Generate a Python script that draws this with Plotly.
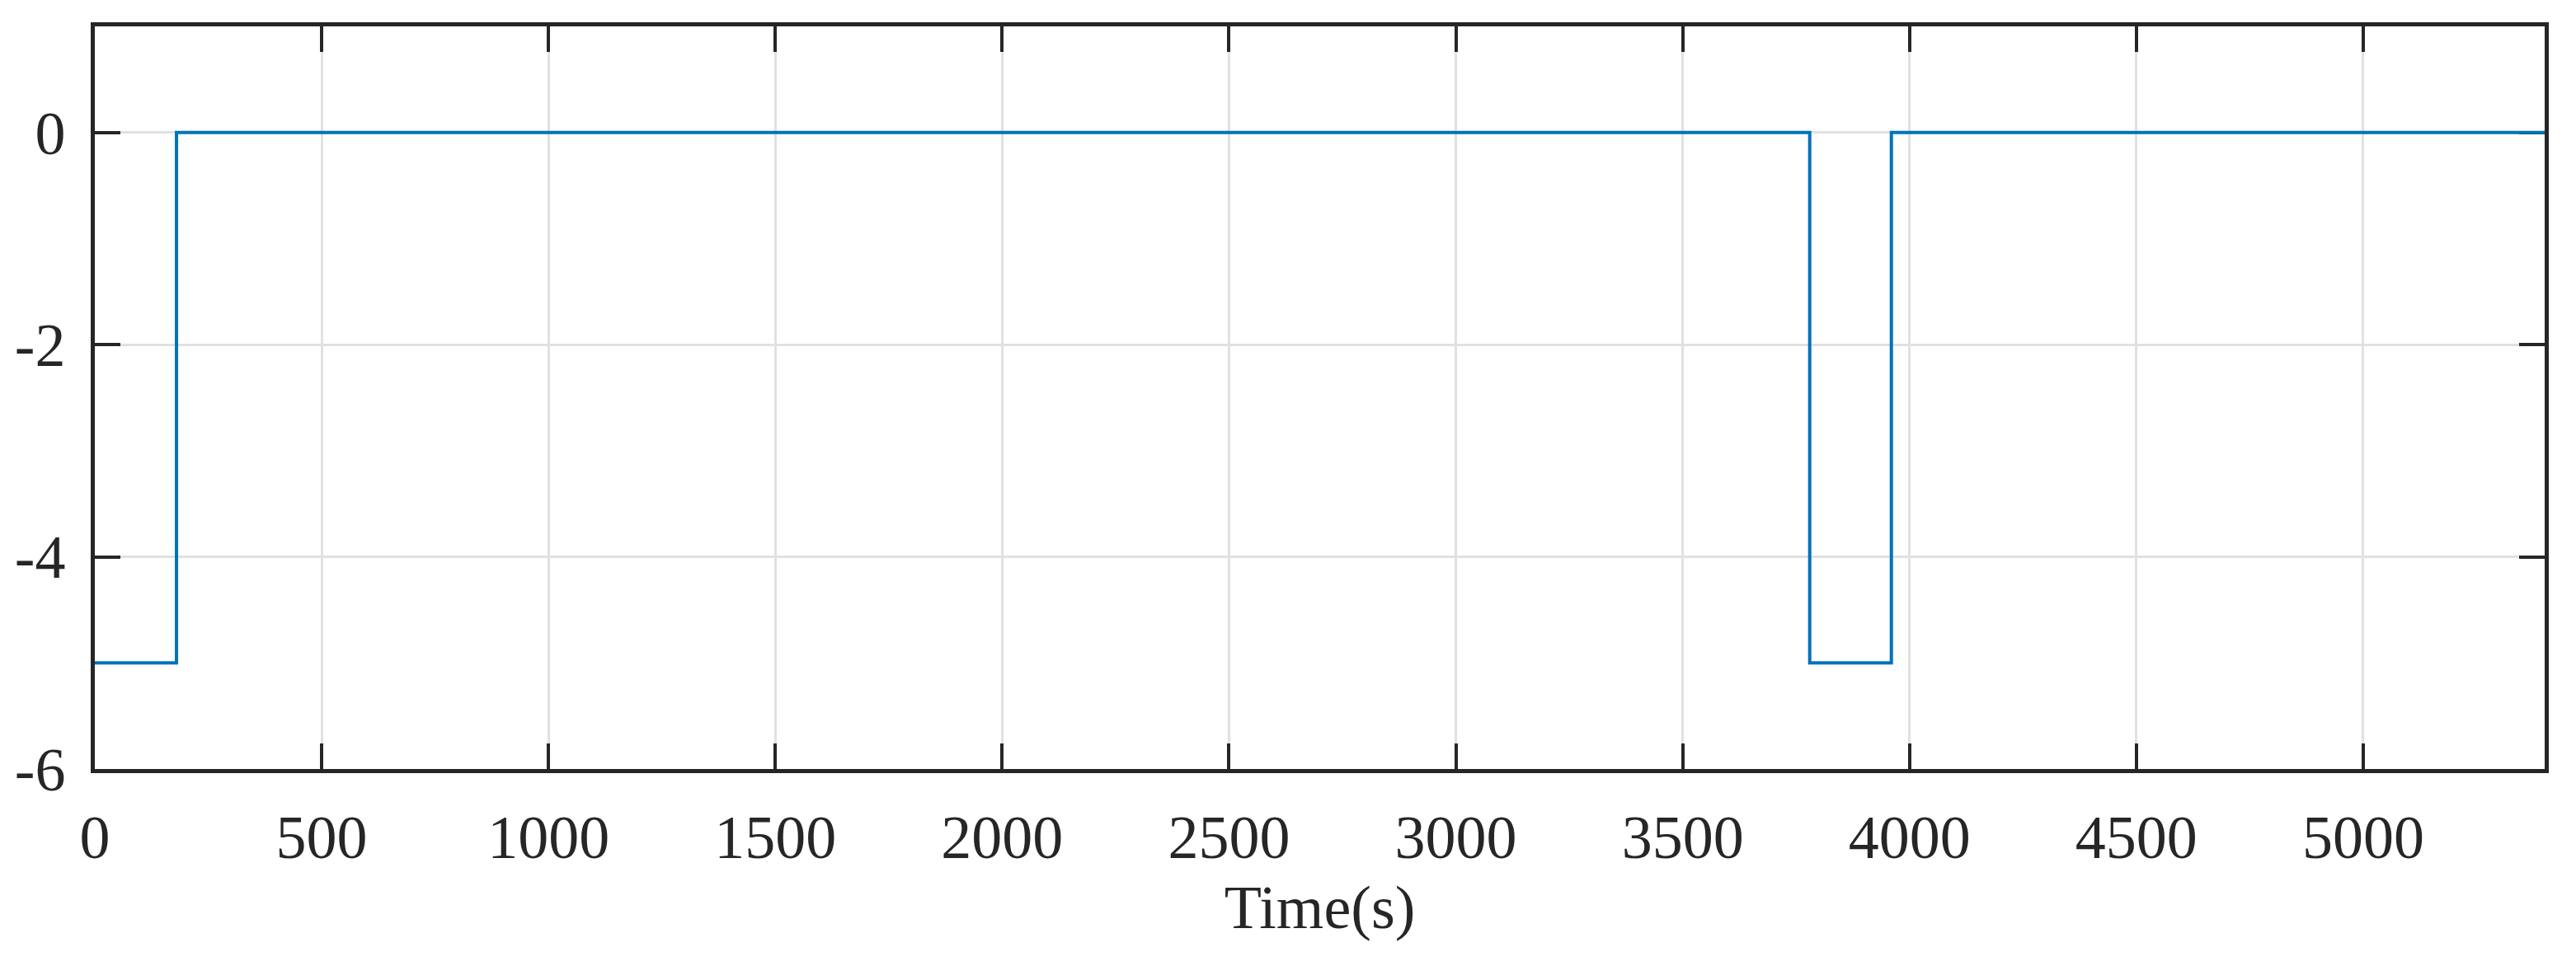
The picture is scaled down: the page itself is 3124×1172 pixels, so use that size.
import plotly.graph_objects as go

# step signal: value holds from each time until the next one
time_s = [0, 180, 3780, 3960, 5400]
signal = [-5, 0, -5, 0, 0]

x_ticks = [0, 500, 1000, 1500, 2000, 2500, 3000, 3500, 4000, 4500, 5000]
y_ticks = [-6, -4, -2, 0]
y_tick_text = ['-6', '-4', '-2', '0']

TEXT = '#262626'
FONT = 'Liberation Serif'

fig = go.Figure()

fig.add_trace(go.Scatter(
    x=time_s,
    y=signal,
    mode='lines',
    line=dict(color='#0072BD', width=4, shape='hv'),
    showlegend=False,
    cliponaxis=False
))

axis_style = dict(
    showline=True,
    linecolor=TEXT,
    linewidth=4.5,
    mirror='ticks',
    ticks='inside',
    ticklen=31,
    tickwidth=4,
    tickcolor=TEXT,
    showgrid=True,
    gridcolor='#e1e1e1',
    gridwidth=3,
    zeroline=False,
    automargin=False,
    layer='below traces',
    tickfont=dict(family=FONT, size=74, color=TEXT),
)

# page body adds ~8px offset, margins compensate
fig.update_layout(
    width=3124,
    height=1172,
    margin=dict(l=107, r=46, t=24, b=247),
    plot_bgcolor='white',
    paper_bgcolor='white',
    xaxis=dict(
        range=[0, 5400],
        tickvals=x_ticks,
        title=dict(text='Time(s)', font=dict(family=FONT, size=74, color=TEXT), standoff=20),
        ticklabelstandoff=14,
        **axis_style
    ),
    yaxis=dict(
        range=[-6, 1],
        tickvals=y_ticks,
        ticktext=y_tick_text,
        ticklabelstandoff=16,
        **axis_style
    ),
)

fig.write_html("out.html")
